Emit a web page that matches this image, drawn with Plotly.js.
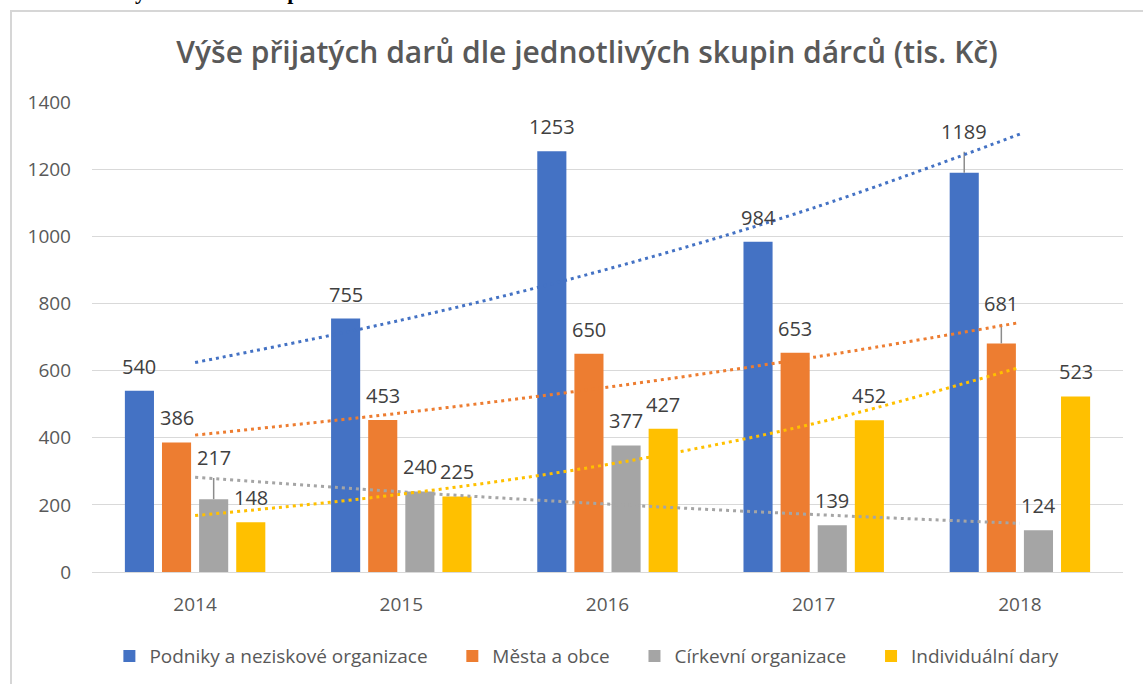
<!DOCTYPE html>
<html>
<head>
<meta charset="utf-8">
<script src="https://cdn.plot.ly/plotly-3.0.1.min.js"></script>
<style>
  html, body { margin: 0; padding: 0; background: #fff; overflow: hidden; width: 1143px; height: 684px; }
  #cap { position: absolute; left: 12px; top: -19px; font-family: "Liberation Serif", serif; font-weight: bold; font-size: 22px; line-height: 22px; color: #000; white-space: pre; }
  #frame { position: absolute; left: 10px; top: 10px; width: 1200px; height: 720px; border-left: 2px solid #d6d6d6; border-top: 2px solid #d6d6d6; }
  #chart { position: absolute; left: 0; top: 0; width: 1150px; height: 690px; }
</style>
</head>
<body>
<div id="cap">Graf 5:       Výše darů dle skupin dárců</div>
<div id="frame"><div id="chart"></div></div>
<script>
// ---- data ----
const years = ['2014', '2015', '2016', '2017', '2018'];
const seriesNames = ['Podniky a neziskové organizace', 'Města a obce', 'Církevní organizace', 'Individuální dary'];
const podniky = [540, 755, 1253, 984, 1189];
const mesta = [386, 453, 650, 653, 681];
const cirkevni = [217, 240, 377, 139, 124];
const individualni = [148, 225, 427, 452, 523];
// upper error bars shown on some bars
const errPodniky = [0, 0, 0, 0, 63];
const errMesta = [0, 0, 0, 0, 58];
const errCirkevni = [63, 0, 0, 0, 0];
const errIndividualni = [0, 0, 0, 0, 0];
const yTicks = [0, 200, 400, 600, 800, 1000, 1200, 1400];

const colors = ['#4472C4', '#ED7D31', '#A5A5A5', '#FFC000'];
const values = [podniky, mesta, cirkevni, individualni];
const errs = [errPodniky, errMesta, errCirkevni, errIndividualni];

// exponential trendline (least squares on ln y), as Excel does
function expFit(v) {
  const n = v.length;
  const xs = v.map((_, i) => i + 1);
  const ls = v.map(Math.log);
  const mx = xs.reduce((a, b) => a + b, 0) / n;
  const my = ls.reduce((a, b) => a + b, 0) / n;
  let sxy = 0, sxx = 0;
  for (let i = 0; i < n; i++) { sxy += (xs[i] - mx) * (ls[i] - my); sxx += (xs[i] - mx) ** 2; }
  const b = sxy / sxx, a = my - b * mx;
  return xs.map(x => Math.exp(a + b * x));
}

const bargap = 0.28;
const bargroupgap = 0.216;
const font = 'Open Sans, Noto Sans, sans-serif';
const textGray = '#595959';
const legendPad = '\u00a0'.repeat(4);

const traces = [];
values.forEach((v, i) => {
  traces.push({
    type: 'bar', name: seriesNames[i] + (i < values.length - 1 ? legendPad : ''), x: years, y: v,
    marker: { color: colors[i] },
    error_y: { type: 'data', symmetric: false, array: errs[i], arrayminus: v.map(() => 0),
               color: '#8c8c8c', thickness: 1.5, width: 0, visible: true },
    hoverinfo: 'y'
  });
});
values.forEach((v, i) => {
  traces.push({
    type: 'scatter', mode: 'lines', x: years, y: expFit(v), showlegend: false,
    line: { color: colors[i], width: 3, dash: '3px,4px', shape: 'spline' },
    hoverinfo: 'skip'
  });
});

const annotations = [];
const nS = values.length;
values.forEach((v, i) => {
  v.forEach((val, c) => {
    const e = errs[i][c];
    annotations.push({
      x: c + (i - (nS - 1) / 2) * (1 - bargap) / nS,
      y: val + e, xref: 'x', yref: 'y',
      text: String(val), showarrow: false, yanchor: 'bottom',
      yshift: e > 0 ? 5 : 9,
      font: { family: font, size: 20, color: '#404040' }
    });
  });
});

const layout = {
  width: 1150, height: 690,
  margin: { l: 80, r: 39, t: 90, b: 130, autoexpand: false },
  paper_bgcolor: '#ffffff', plot_bgcolor: '#ffffff',
  barmode: 'group', bargap: bargap, bargroupgap: bargroupgap,
  title: {
    text: 'Výše přijatých darů dle jednotlivých skupin dárců (tis. Kč)',
    x: 0.5, xref: 'container', y: 1 - 40 / 690, yref: 'container', yanchor: 'middle',
    font: { family: font, size: 30, color: textGray, weight: 600 }
  },
  xaxis: {
    type: 'category', showgrid: false, showline: true, linecolor: '#d9d9d9', linewidth: 1,
    ticks: '', ticklabelstandoff: 15,
    tickfont: { family: font, size: 19, color: textGray }
  },
  yaxis: {
    range: [0, 1400], tickvals: yTicks, ticktext: yTicks.map(String),
    showgrid: true, gridcolor: '#d9d9d9', gridwidth: 1,
    zeroline: true, zerolinecolor: '#d9d9d9', zerolinewidth: 1,
    showline: false, ticks: '', ticklabelstandoff: 20,
    tickfont: { family: font, size: 19, color: textGray }
  },
  legend: {
    orientation: 'h', x: 0.48, xanchor: 'center',
    y: -0.179, yanchor: 'middle',
    font: { family: font, size: 19, color: textGray },
    traceorder: 'normal'
  },
  annotations: annotations,
  showlegend: true
};

Plotly.newPlot('chart', traces, layout, { displayModeBar: false, staticPlot: true });
</script>
</body>
</html>
